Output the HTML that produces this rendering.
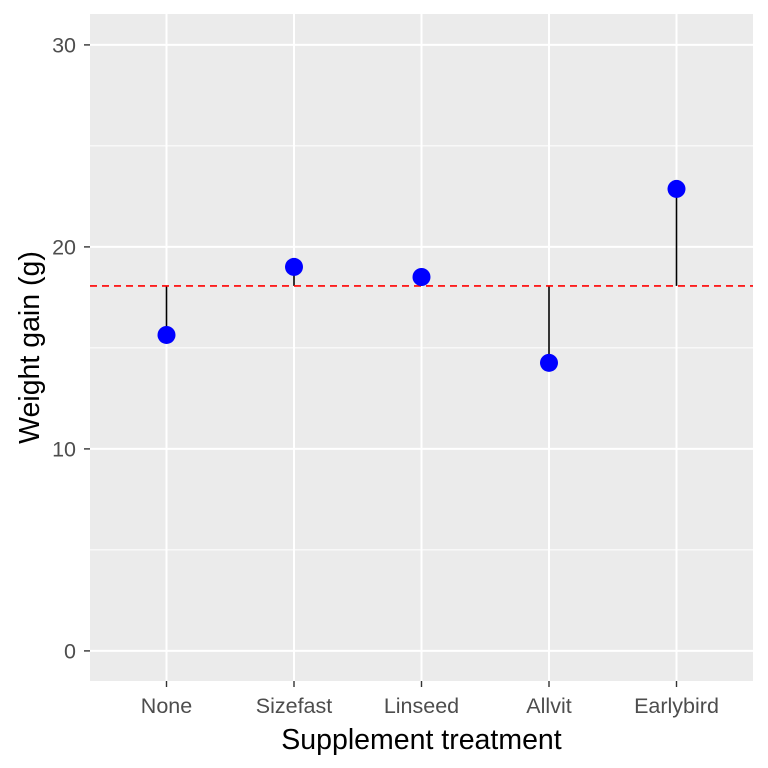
<!DOCTYPE html>
<html><head><meta charset="utf-8"><style>
html,body{margin:0;padding:0;background:#fff;}
svg{display:block;font-family:"Liberation Sans",Arial,sans-serif;}
</style></head><body>
<svg id="chart" width="768" height="768" viewBox="0 0 768 768">
<rect x="0" y="0" width="768" height="768" fill="#fff"/>
<g id="plot"></g>
</svg>
<script>
const categories = ["None","Sizefast","Linseed","Allvit","Earlybird"];
const weightGain = [15.64, 19.01, 18.51, 14.26, 22.87];
const meanGain = 18.07;
const yTicks = [0,10,20,30];
const yMinor = [5,15,25];

const P = {l:90, r:753, t:14, b:681};
const yMin = -1.49, yMax = 31.53;
function y(v){ return P.b - (v - yMin)/(yMax - yMin)*(P.b - P.t); }
const step = (P.r - P.l)/(categories.length + 0.2);
function x(i){ return P.l + (i + 0.6)*step; }

const NS = "http://www.w3.org/2000/svg";
const g = document.getElementById('plot');
function el(tag, attrs, parent){
  const e = document.createElementNS(NS, tag);
  for (const k in attrs) e.setAttribute(k, attrs[k]);
  (parent||g).appendChild(e);
  return e;
}

const panel = el('rect',{x:P.l,y:P.t,width:P.r-P.l,height:P.b-P.t,fill:'#ebebeb'});



yMinor.forEach(v=>{
  const l = el('line',{x1:P.l,x2:P.r,y1:y(v),y2:y(v),stroke:'#fff','stroke-width':1});
  
  
});
yTicks.forEach(v=>{
  const l = el('line',{x1:P.l,x2:P.r,y1:y(v),y2:y(v),stroke:'#fff','stroke-width':2});
  
  
  const t = el('line',{x1:P.l-6,x2:P.l,y1:y(v),y2:y(v),stroke:'#333','stroke-width':1.4});
  
  
  const tx = el('text',{x:P.l-14,y:y(v)+7.5,'text-anchor':'end','font-size':'21.5px',fill:'#4d4d4d'});
  tx.textContent = v;
  
  
});
categories.forEach((c,i)=>{
  const l = el('line',{x1:x(i),x2:x(i),y1:P.t,y2:P.b,stroke:'#fff','stroke-width':2});
  
  
  const t = el('line',{x1:x(i),x2:x(i),y1:P.b,y2:P.b+6,stroke:'#333','stroke-width':1.4});
  
  
  const tx = el('text',{x:x(i),y:P.b+32,'text-anchor':'middle','font-size':'21.5px',fill:'#4d4d4d'});
  tx.textContent = c;
  
  
});

categories.forEach((c,i)=>{
  const s = el('line',{x1:x(i),x2:x(i),y1:y(meanGain),y2:y(weightGain[i]),stroke:'#000','stroke-width':1.6});
  
  
});

const ml = el('line',{x1:P.l,x2:P.r,y1:y(meanGain),y2:y(meanGain),stroke:'#ff0000','stroke-width':1.6,'stroke-dasharray':'7,5'});



categories.forEach((c,i)=>{
  const p = el('circle',{cx:x(i),cy:y(weightGain[i]),r:9,fill:'#0000ff'});
  
  
});

const xt = el('text',{x:(P.l+P.r)/2,y:749,'text-anchor':'middle','font-size':'28.5px',fill:'#000'});
xt.textContent = 'Supplement treatment';


const yt = el('text',{x:0,y:0,'text-anchor':'middle','font-size':'28.5px',fill:'#000',transform:'translate(39,'+((P.t+P.b)/2)+') rotate(-90)'});
yt.textContent = 'Weight gain (g)';


</script>
</body></html>
